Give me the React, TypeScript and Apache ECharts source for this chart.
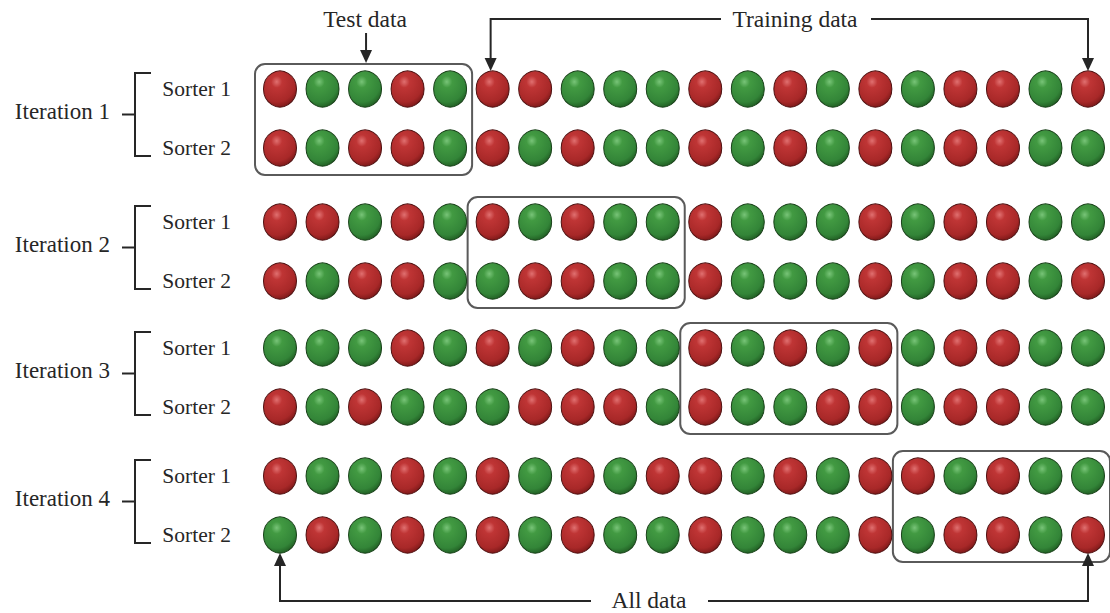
import React, { useEffect, useRef } from "react";
import * as echarts from "echarts";

// 1 = red ball, 0 = green ball
const iterationLabels = ["Iteration 1", "Iteration 2", "Iteration 3", "Iteration 4"];
const sorterLabels = ["Sorter 1", "Sorter 2"];
const iteration1Sorter1 = [1, 0, 0, 1, 0, 1, 1, 0, 0, 0, 1, 0, 1, 0, 1, 0, 1, 1, 0, 1];
const iteration1Sorter2 = [1, 0, 1, 1, 0, 1, 0, 1, 0, 0, 1, 0, 1, 0, 1, 0, 1, 1, 0, 0];
const iteration2Sorter1 = [1, 1, 0, 1, 0, 1, 0, 1, 0, 0, 1, 0, 0, 0, 1, 0, 1, 1, 0, 0];
const iteration2Sorter2 = [1, 0, 1, 1, 0, 0, 1, 1, 0, 0, 1, 0, 0, 0, 1, 0, 1, 1, 0, 1];
const iteration3Sorter1 = [0, 0, 0, 1, 0, 1, 0, 1, 0, 0, 1, 0, 1, 0, 1, 0, 1, 1, 0, 0];
const iteration3Sorter2 = [1, 0, 1, 0, 0, 0, 1, 1, 1, 0, 1, 0, 0, 1, 1, 0, 1, 1, 0, 0];
const iteration4Sorter1 = [1, 0, 0, 1, 0, 1, 0, 1, 0, 1, 1, 0, 1, 0, 1, 1, 0, 1, 0, 0];
const iteration4Sorter2 = [0, 1, 0, 1, 0, 1, 0, 1, 0, 0, 1, 0, 0, 0, 1, 0, 1, 1, 0, 1];
const testFoldStart = [0, 5, 10, 15];
const foldSize = 5;

const iterations = [
  [iteration1Sorter1, iteration1Sorter2],
  [iteration2Sorter1, iteration2Sorter2],
  [iteration3Sorter1, iteration3Sorter2],
  [iteration4Sorter1, iteration4Sorter2],
];

// layout
const gridTops = [89, 222, 348, 476];
const gridHeight = 59;
const FONT = "'Liberation Serif', 'DejaVu Serif', serif";
const INK = "#262626";
const BOX = "#5a5a5a";

const redBall = {
  type: "radial", x: 0.4, y: 0.3, r: 0.75,
  colorStops: [
    { offset: 0, color: "#e07070" },
    { offset: 0.22, color: "#bf3535" },
    { offset: 0.75, color: "#a82828" },
    { offset: 1, color: "#761616" },
  ],
};
const greenBall = {
  type: "radial", x: 0.4, y: 0.3, r: 0.75,
  colorStops: [
    { offset: 0, color: "#78c478" },
    { offset: 0.22, color: "#429a42" },
    { offset: 0.75, color: "#338538" },
    { offset: 1, color: "#1e5820" },
  ],
};

export default function App() {
  const ref = useRef<HTMLDivElement>(null);
  useEffect(() => {
    if (!ref.current) return;
    const chart = echarts.init(ref.current, null, { renderer: "svg" });
    const grids = gridTops.map((t) => ({ left: 280, right: 22, top: t, height: gridHeight }));
    const xAxes = gridTops.map((_, i) => ({
      type: "value", gridIndex: i, min: 0, max: 19, show: false,
    }));
    const yAxes = gridTops.map((_, i) => ({
      type: "category", gridIndex: i, data: sorterLabels, boundaryGap: false, inverse: true,
      axisLine: { show: false }, axisTick: { show: false }, splitLine: { show: false },
      axisLabel: {
        margin: 49, fontFamily: FONT, fontSize: 21.5, color: INK,
        verticalAlign: "middle", padding: [0, 0, 9, 0],
      },
    }));
    const series = iterations.map((rows, i) => ({
      type: "scatter", xAxisIndex: i, yAxisIndex: i, clip: false,
      symbol: "circle", symbolSize: [33, 36],
      data: rows.flatMap((row, r) =>
        row.map((v, k) => ({
          value: [k, r],
          itemStyle: {
            color: v ? redBall : greenBall,
            borderColor: v ? "#4d1010" : "#173f17",
            borderWidth: 1,
            opacity: 1,
          },
        }))
      ),
    }));
    chart.setOption({
      animation: false,
      backgroundColor: "#ffffff",
      grid: grids, xAxis: xAxes, yAxis: yAxes, series,
    });

    const px = (g: number, x: number, y: number) =>
      chart.convertToPixel({ gridIndex: g }, [x, y]) as number[];

    const graphic: any[] = [];
    const line = (pts: number[][]) => ({
      type: "polyline", shape: { points: pts }, style: { stroke: INK, lineWidth: 2, fill: null },
    });
    const head = (x: number, tipY: number, dir: number) => ({
      type: "polygon",
      shape: { points: [[x - 6, tipY - dir * 13], [x + 6, tipY - dir * 13], [x, tipY]] },
      style: { fill: INK },
    });
    const text = (t: string, x: number, y: number, align: string, size: number) => ({
      type: "text",
      style: { text: t, x, y, align, verticalAlign: "middle", fontFamily: FONT, fontSize: size, fill: INK },
    });

    iterations.forEach((_, g) => {
      const a = px(g, 0, 0);
      const b = px(g, 0, 1);
      const s = testFoldStart[g];
      const l = px(g, s, 0);
      const r = px(g, s + foldSize - 1, 1);
      graphic.push({
        type: "rect",
        shape: { x: l[0] - 25, y: l[1] - 25, width: r[0] - l[0] + 47, height: r[1] - l[1] + 52, r: 10 },
        style: { fill: null, stroke: BOX, lineWidth: 2 },
      });
      const top = a[1] - 16;
      const bot = b[1] + 8;
      const mid = (top + bot) / 2;
      graphic.push(line([[151, top], [135, top], [135, bot], [151, bot]]));
      graphic.push(line([[122, mid], [135, mid]]));
      graphic.push(text(iterationLabels[g], 110, mid - 3, "right", 23));
    });

    // top annotations
    const firstTest = px(0, 2, 0);
    const firstTrain = px(0, foldSize, 0);
    const lastTrain = px(0, 19, 0);
    const ty = 19;
    graphic.push(text("Test data", firstTest[0], ty, "center", 23.5));
    graphic.push(line([[firstTest[0] + 1, 33], [firstTest[0] + 1, 52]]));
    graphic.push(head(firstTest[0] + 1, 63, 1));
    graphic.push(text("Training data", 795, ty, "center", 23.5));
    graphic.push(line([[721, ty], [firstTrain[0] - 2, ty], [firstTrain[0] - 2, 60]]));
    graphic.push(head(firstTrain[0] - 2, 71, 1));
    graphic.push(line([[871, ty], [lastTrain[0], ty], [lastTrain[0], 60]]));
    graphic.push(head(lastTrain[0], 71, 1));

    // bottom annotation
    const f = px(3, 0, 1);
    const e = px(3, 19, 1);
    const by = 601;
    graphic.push(text("All data", 649, by - 1, "center", 23.5));
    graphic.push(line([[591, by], [f[0], by], [f[0], 565]]));
    graphic.push(head(f[0], 553, -1));
    graphic.push(line([[708, by], [e[0], by], [e[0], 565]]));
    graphic.push(head(e[0], 553, -1));

    chart.setOption({ graphic });
    return () => chart.dispose();
  }, []);
  return (
    <div
      ref={ref}
      style={{ position: "fixed", left: 0, top: 0, width: 1110, height: 613, background: "#fff" }}
    />
  );
}
